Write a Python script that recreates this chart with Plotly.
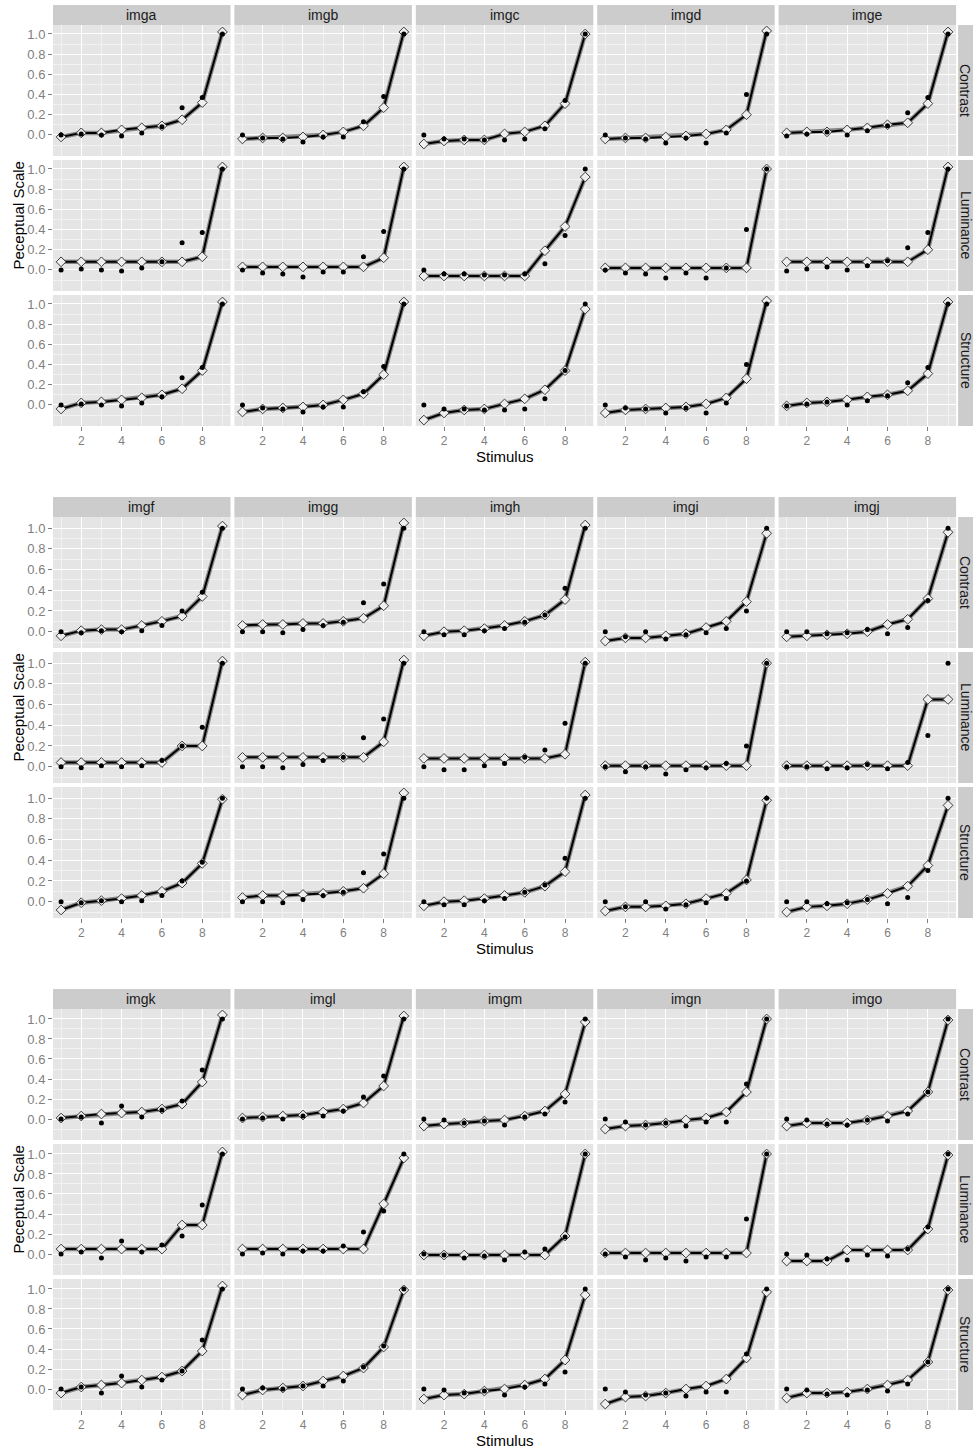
import plotly.graph_objects as go

# ---------------- data ----------------
stimulus = [1, 2, 3, 4, 5, 6, 7, 8, 9]
attributes = ["Contrast", "Luminance", "Structure"]
image_blocks = [
    ["imga", "imgb", "imgc", "imgd", "imge"],
    ["imgf", "imgg", "imgh", "imgi", "imgj"],
    ["imgk", "imgl", "imgm", "imgn", "imgo"],
]

# observed perceptual scale values (black dots)
observed = {
    "imga": [0.00, 0.01, 0.00, -0.01, 0.02, 0.08, 0.27, 0.37, 1.00],
    "imgb": [0.00, -0.03, -0.04, -0.07, -0.02, -0.02, 0.13, 0.38, 1.00],
    "imgc": [0.00, -0.04, -0.04, -0.05, -0.05, -0.04, 0.06, 0.34, 1.00],
    "imgd": [0.00, -0.03, -0.04, -0.08, -0.03, -0.08, 0.02, 0.40, 1.00],
    "imge": [-0.01, 0.01, 0.03, 0.00, 0.04, 0.09, 0.22, 0.37, 1.00],
    "imgf": [0.00, -0.01, 0.01, 0.00, 0.01, 0.06, 0.20, 0.38, 1.00],
    "imgg": [0.00, 0.00, -0.01, 0.02, 0.06, 0.09, 0.28, 0.46, 1.00],
    "imgh": [0.00, -0.03, -0.03, 0.01, 0.03, 0.09, 0.16, 0.42, 1.00],
    "imgi": [0.00, -0.05, 0.00, -0.07, -0.03, -0.01, 0.03, 0.20, 1.00],
    "imgj": [0.00, 0.00, -0.02, -0.01, 0.02, -0.02, 0.04, 0.30, 1.00],
    "imgk": [0.00, 0.02, -0.04, 0.13, 0.02, 0.09, 0.18, 0.49, 1.00],
    "imgl": [0.00, 0.01, 0.00, 0.03, 0.03, 0.08, 0.22, 0.43, 1.00],
    "imgm": [0.00, -0.01, -0.04, -0.02, -0.06, 0.02, 0.05, 0.17, 1.00],
    "imgn": [0.00, -0.03, -0.06, -0.04, -0.07, -0.03, -0.03, 0.35, 1.00],
    "imgo": [0.00, -0.01, -0.05, -0.06, -0.01, -0.02, 0.05, 0.27, 1.00],
}

# model predictions (line with diamonds)
contrast_fit = {
    "imga": [-0.02, 0.02, 0.02, 0.05, 0.07, 0.09, 0.15, 0.32, 1.02],
    "imgb": [-0.04, -0.03, -0.03, -0.02, 0.00, 0.03, 0.09, 0.27, 1.02],
    "imgc": [-0.09, -0.06, -0.05, -0.05, 0.01, 0.03, 0.09, 0.31, 1.00],
    "imgd": [-0.04, -0.03, -0.03, -0.02, -0.01, 0.01, 0.05, 0.20, 1.03],
    "imge": [0.02, 0.03, 0.03, 0.05, 0.07, 0.10, 0.12, 0.31, 1.02],
    "imgf": [-0.04, 0.01, 0.02, 0.02, 0.06, 0.10, 0.15, 0.34, 1.02],
    "imgg": [0.06, 0.07, 0.07, 0.08, 0.08, 0.10, 0.13, 0.25, 1.05],
    "imgh": [-0.04, 0.00, 0.01, 0.03, 0.06, 0.10, 0.16, 0.31, 1.03],
    "imgi": [-0.09, -0.06, -0.06, -0.04, -0.02, 0.04, 0.10, 0.29, 0.95],
    "imgj": [-0.05, -0.04, -0.03, -0.02, 0.00, 0.07, 0.12, 0.32, 0.96],
    "imgk": [0.01, 0.03, 0.05, 0.06, 0.07, 0.10, 0.15, 0.37, 1.04],
    "imgl": [0.01, 0.02, 0.03, 0.04, 0.07, 0.10, 0.16, 0.33, 1.03],
    "imgm": [-0.07, -0.05, -0.04, -0.02, -0.01, 0.03, 0.08, 0.25, 0.97],
    "imgn": [-0.10, -0.07, -0.06, -0.04, -0.01, 0.01, 0.07, 0.27, 1.00],
    "imgo": [-0.07, -0.04, -0.04, -0.04, -0.01, 0.03, 0.08, 0.27, 0.99],
}
luminance_fit = {
    "imga": [0.08, 0.08, 0.08, 0.08, 0.08, 0.08, 0.08, 0.13, 1.02],
    "imgb": [0.03, 0.03, 0.03, 0.03, 0.03, 0.03, 0.03, 0.12, 1.02],
    "imgc": [-0.06, -0.06, -0.06, -0.06, -0.06, -0.06, 0.19, 0.43, 0.92],
    "imgd": [0.02, 0.02, 0.02, 0.02, 0.02, 0.02, 0.02, 0.02, 1.00],
    "imge": [0.08, 0.08, 0.08, 0.08, 0.08, 0.08, 0.08, 0.20, 1.02],
    "imgf": [0.04, 0.04, 0.04, 0.04, 0.04, 0.04, 0.20, 0.20, 1.02],
    "imgg": [0.09, 0.09, 0.09, 0.09, 0.09, 0.09, 0.09, 0.24, 1.03],
    "imgh": [0.08, 0.08, 0.08, 0.08, 0.08, 0.08, 0.08, 0.12, 1.01],
    "imgi": [0.01, 0.01, 0.01, 0.01, 0.01, 0.01, 0.01, 0.01, 1.00],
    "imgj": [0.01, 0.01, 0.01, 0.01, 0.01, 0.01, 0.01, 0.65, 0.65],
    "imgk": [0.05, 0.05, 0.05, 0.05, 0.05, 0.05, 0.29, 0.29, 1.02],
    "imgl": [0.05, 0.05, 0.05, 0.05, 0.05, 0.05, 0.05, 0.50, 0.96],
    "imgm": [-0.01, -0.01, -0.01, -0.01, -0.01, -0.01, -0.01, 0.18, 1.00],
    "imgn": [0.01, 0.01, 0.01, 0.01, 0.01, 0.01, 0.01, 0.01, 1.00],
    "imgo": [-0.07, -0.07, -0.07, 0.04, 0.04, 0.04, 0.04, 0.25, 0.99],
}
structure_fit = {
    "imga": [-0.04, 0.02, 0.03, 0.05, 0.07, 0.10, 0.16, 0.34, 1.02],
    "imgb": [-0.07, -0.04, -0.03, -0.02, 0.00, 0.05, 0.11, 0.30, 1.02],
    "imgc": [-0.15, -0.08, -0.05, -0.04, 0.01, 0.06, 0.15, 0.34, 0.95],
    "imgd": [-0.08, -0.05, -0.04, -0.03, -0.02, 0.01, 0.07, 0.26, 1.03],
    "imge": [-0.01, 0.02, 0.03, 0.05, 0.08, 0.10, 0.14, 0.31, 1.02],
    "imgf": [-0.08, -0.01, 0.01, 0.03, 0.06, 0.10, 0.18, 0.37, 0.99],
    "imgg": [0.04, 0.06, 0.06, 0.07, 0.08, 0.10, 0.13, 0.27, 1.05],
    "imgh": [-0.04, 0.00, 0.01, 0.03, 0.06, 0.09, 0.15, 0.29, 1.03],
    "imgi": [-0.09, -0.05, -0.05, -0.04, -0.02, 0.03, 0.08, 0.21, 0.98],
    "imgj": [-0.10, -0.05, -0.04, -0.02, 0.02, 0.08, 0.15, 0.35, 0.93],
    "imgk": [-0.04, 0.02, 0.04, 0.06, 0.09, 0.12, 0.18, 0.38, 1.03],
    "imgl": [-0.06, -0.01, 0.01, 0.03, 0.08, 0.13, 0.21, 0.42, 0.99],
    "imgm": [-0.10, -0.06, -0.05, -0.02, 0.00, 0.04, 0.10, 0.29, 0.94],
    "imgn": [-0.15, -0.08, -0.07, -0.04, 0.00, 0.03, 0.10, 0.31, 0.97],
    "imgo": [-0.09, -0.04, -0.04, -0.03, 0.00, 0.04, 0.09, 0.27, 0.99],
}
fits = {"Contrast": contrast_fit, "Luminance": luminance_fit, "Structure": structure_fit}

x_ticks = [2, 4, 6, 8]
x_minor = [1, 3, 5, 7, 9]
y_ticks = [0.0, 0.2, 0.4, 0.6, 0.8, 1.0]
y_minor = [-0.1, 0.1, 0.3, 0.5, 0.7, 0.9]

# ---------------- layout geometry (page pixels) ----------------
W, H = 973, 1450
left0, pw, gap_x = 53.0, 177.5, 3.9
block_tops = [5, 497, 989]
strip_h, row_h, gap_y = 20, 131, 4
panel_right = left0 + 5 * pw + 4 * gap_x

FONT = "Liberation Sans, Arial, Helvetica, sans-serif"
GRID_MAJOR = "#FFFFFF"
GRID_MINOR = "#F2F2F2"
PANEL_BG = "#E5E5E5"
STRIP_BG = "#CCCCCC"
TICK_COL = "#7F7F7F"


def fx(px):
    return px / W


def fy(py):
    return 1 - py / H


fig = go.Figure()
shapes = []
annotations = []
layout_axes = {}

k = 0
for b, imgs in enumerate(image_blocks):
    # shared y-range for the block (ggplot-like 5% expansion)
    vals = []
    for im in imgs:
        vals += observed[im]
        for a in attributes:
            vals += fits[a][im]
    lo, hi = min(vals), max(vals)
    ex = (hi - lo) * 0.05
    yr = [lo - ex, hi + ex]

    T = block_tops[b]
    for r, attr in enumerate(attributes):
        y_top = T + strip_h + r * (row_h + gap_y)
        y_bot = y_top + row_h
        for c, im in enumerate(imgs):
            k += 1
            x0 = left0 + c * (pw + gap_x)
            x1 = x0 + pw
            xa = "x" if k == 1 else f"x{k}"
            ya = "y" if k == 1 else f"y{k}"
            bottom_row = r == 2
            first_col = c == 0
            layout_axes["xaxis" if k == 1 else f"xaxis{k}"] = dict(
                domain=[fx(x0), fx(x1)], anchor=ya, range=[0.6, 9.4],
                tickmode="array", tickvals=x_ticks, ticktext=[str(v) for v in x_ticks],
                showticklabels=bottom_row, ticks="outside" if bottom_row else "",
                ticklen=4, tickcolor=TICK_COL, tickwidth=1,
                tickfont=dict(family=FONT, size=12, color=TICK_COL),
                showgrid=True, gridcolor=GRID_MAJOR, gridwidth=1.3,
                minor=dict(tickmode="array", tickvals=x_minor, showgrid=True,
                           gridcolor=GRID_MINOR, gridwidth=0.6, ticks=""),
                zeroline=False, showline=False, fixedrange=True,
            )
            layout_axes["yaxis" if k == 1 else f"yaxis{k}"] = dict(
                domain=[fy(y_bot), fy(y_top)], anchor=xa, range=yr,
                tickmode="array", tickvals=y_ticks,
                ticktext=[f"{v:.1f}" for v in y_ticks],
                showticklabels=first_col, ticks="outside" if first_col else "",
                ticklen=4, tickcolor=TICK_COL, tickwidth=1,
                tickfont=dict(family=FONT, size=13, color=TICK_COL),
                showgrid=True, gridcolor=GRID_MAJOR, gridwidth=1.3,
                minor=dict(tickmode="array", tickvals=y_minor, showgrid=True,
                           gridcolor=GRID_MINOR, gridwidth=0.6, ticks=""),
                zeroline=False, showline=False, fixedrange=True,
            )
            fv = fits[attr][im]
            fig.add_trace(go.Scatter(
                x=stimulus, y=fv, xaxis=xa, yaxis=ya, mode="lines",
                line=dict(color="rgba(60,60,60,0.55)", width=4.5),
                hoverinfo="skip", showlegend=False))
            fig.add_trace(go.Scatter(
                x=stimulus, y=fv, xaxis=xa, yaxis=ya, mode="lines+markers",
                line=dict(color="#000000", width=2),
                marker=dict(symbol="diamond", size=7.5, color="#EFEFEF",
                            line=dict(color="#3A3A3A", width=1)),
                showlegend=False))
            fig.add_trace(go.Scatter(
                x=stimulus, y=observed[im], xaxis=xa, yaxis=ya, mode="markers",
                marker=dict(symbol="circle", size=5, color="#000000"),
                showlegend=False))

            # top strip
            if r == 0:
                shapes.append(dict(type="rect", xref="paper", yref="paper",
                                   x0=fx(x0), x1=fx(x1), y0=fy(T + strip_h), y1=fy(T),
                                   fillcolor=STRIP_BG, line=dict(width=0), layer="below"))
                annotations.append(dict(text=im, xref="paper", yref="paper",
                                        x=fx((x0 + x1) / 2), y=fy(T + strip_h / 2),
                                        showarrow=False, xanchor="center", yanchor="middle",
                                        font=dict(family=FONT, size=14, color="#1A1A1A")))
        # right strip
        sx0 = panel_right + 2
        shapes.append(dict(type="rect", xref="paper", yref="paper",
                           x0=fx(sx0), x1=1.0, y0=fy(y_bot), y1=fy(y_top),
                           fillcolor=STRIP_BG, line=dict(width=0), layer="below"))
        annotations.append(dict(text=attr, xref="paper", yref="paper",
                                x=fx(sx0 + 7.5), y=fy((y_top + y_bot) / 2),
                                showarrow=False, textangle=90,
                                xanchor="center", yanchor="middle",
                                font=dict(family=FONT, size=14, color="#1A1A1A")))

    block_bottom = T + strip_h + 3 * row_h + 2 * gap_y
    annotations.append(dict(text="Peceptual Scale", xref="paper", yref="paper",
                            x=fx(18), y=fy((T + block_bottom) / 2), showarrow=False,
                            textangle=-90, xanchor="center", yanchor="middle",
                            font=dict(family=FONT, size=15, color="#000000")))
    annotations.append(dict(text="Stimulus", xref="paper", yref="paper",
                            x=fx((left0 + panel_right) / 2), y=fy(min(block_bottom + 30, H - 9)),
                            showarrow=False, xanchor="center", yanchor="middle",
                            font=dict(family=FONT, size=15, color="#000000")))

fig.update_layout(
    width=W, height=H, margin=dict(l=0, r=0, t=0, b=0),
    paper_bgcolor="#FFFFFF", plot_bgcolor=PANEL_BG,
    shapes=shapes, annotations=annotations, showlegend=False,
    hovermode="closest", **layout_axes,
)

# remove the default page margin so the figure fills the window exactly
fig.write_html(
    "out.html",
    config={"displayModeBar": False},
    post_script="document.body.style.margin='0';document.body.style.overflow='hidden';",
)
